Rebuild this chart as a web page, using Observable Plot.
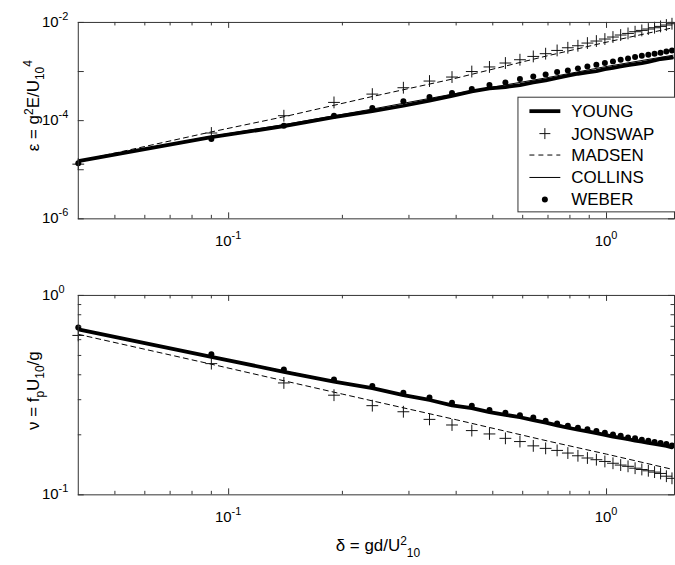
<!DOCTYPE html>
<html>
<head>
<meta charset="utf-8">
<script src="https://cdn.jsdelivr.net/npm/d3@7"></script>
<script src="https://cdn.jsdelivr.net/npm/@observablehq/plot@0.6"></script>
<style>
  body { margin: 0; background: #fff; }
  #fig { position: relative; width: 675px; height: 565px; overflow: hidden; background: #fff;
         font-family: "Liberation Sans", Arial, Helvetica, sans-serif; }
  #fig svg { position: absolute; left: 0; overflow: visible; }
</style>
</head>
<body>
<div id="fig"></div>
<script>
// Non-dimensional depth  delta = g d / U10^2
const delta = [0.04, 0.09, 0.14, 0.19, 0.24, 0.29, 0.34, 0.39, 0.44, 0.49,
               0.54, 0.59, 0.64, 0.69, 0.74, 0.79, 0.84, 0.89, 0.94, 0.99,
               1.04, 1.09, 1.14, 1.19, 1.24, 1.29, 1.34, 1.39, 1.44, 1.49];

// Non-dimensional energy  epsilon = g^2 E / U10^4
const epsYoung   = [1.5e-5, 4.6e-5, 7.7e-5, 1.18e-4, 1.57e-4, 2.01e-4, 2.55e-4, 3.2e-4, 3.94e-4, 4.53e-4,
                    4.83e-4, 5.31e-4, 6.0e-4, 6.59e-4, 7.38e-4, 8.21e-4, 9.01e-4, 9.6e-4, 1.02e-3, 1.12e-3,
                    1.19e-3, 1.27e-3, 1.35e-3, 1.42e-3, 1.49e-3, 1.58e-3, 1.68e-3, 1.8e-3, 1.85e-3, 1.91e-3];
const epsJonswap = [1.3e-5, 5.6e-5, 1.26e-4, 2.35e-4, 3.47e-4, 4.68e-4, 6.4e-4, 7.72e-4, 1.0e-3, 1.24e-3,
                    1.49e-3, 1.74e-3, 2.03e-3, 2.31e-3, 2.69e-3, 3.05e-3, 3.35e-3, 3.8e-3, 4.18e-3, 4.59e-3,
                    5.04e-3, 5.54e-3, 5.97e-3, 6.47e-3, 6.88e-3, 7.34e-3, 7.8e-3, 8.3e-3, 8.85e-3, 9.41e-3];
const epsWeber   = [1.35e-5, 4.22e-5, 7.87e-5, 1.26e-4, 1.8e-4, 2.47e-4, 3.02e-4, 3.65e-4, 4.4e-4, 5.31e-4,
                    6.0e-4, 7.03e-4, 7.94e-4, 8.73e-4, 9.77e-4, 1.05e-3, 1.16e-3, 1.27e-3, 1.37e-3, 1.49e-3,
                    1.61e-3, 1.74e-3, 1.85e-3, 1.97e-3, 2.1e-3, 2.2e-3, 2.31e-3, 2.42e-3, 2.57e-3, 2.69e-3];
const epsMadsenX  = [0.04, 0.09, 0.14, 0.24, 0.39, 0.69, 0.99, 1.5];
const epsMadsen   = [1.5e-5, 5.9e-5, 1.2e-4, 3.1e-4, 7.0e-4, 2.05e-3, 3.9e-3, 7.8e-3];
const epsCollinsX = [0.04, 0.09, 0.14, 0.24, 0.39, 0.69, 0.99, 1.5];
const epsCollins  = [1.5e-5, 4.8e-5, 8.3e-5, 1.72e-4, 3.45e-4, 7.4e-4, 1.25e-3, 2.15e-3];

// Non-dimensional peak frequency  nu = fp U10 / g
const nuYoung   = [0.675, 0.492, 0.414, 0.370, 0.343, 0.316, 0.299, 0.281, 0.272, 0.260,
                   0.252, 0.245, 0.237, 0.230, 0.223, 0.217, 0.212, 0.208, 0.204, 0.200,
                   0.196, 0.193, 0.190, 0.187, 0.185, 0.182, 0.180, 0.178, 0.176, 0.173];
const nuJonswap = [0.630, 0.455, 0.364, 0.316, 0.280, 0.261, 0.239, 0.224, 0.210, 0.202,
                   0.192, 0.185, 0.176, 0.171, 0.167, 0.162, 0.157, 0.153, 0.150, 0.147,
                   0.144, 0.141, 0.139, 0.136, 0.134, 0.132, 0.130, 0.128, 0.124, 0.121];
const nuWeber   = [0.690, 0.507, 0.425, 0.379, 0.351, 0.325, 0.308, 0.290, 0.280, 0.266,
                   0.258, 0.251, 0.244, 0.235, 0.228, 0.222, 0.217, 0.213, 0.209, 0.205,
                   0.201, 0.198, 0.194, 0.192, 0.189, 0.187, 0.184, 0.182, 0.180, 0.177];
const nuMadsenX  = [0.04, 0.09, 0.2, 0.4, 0.7, 1.0, 1.5];
const nuMadsen   = [0.638, 0.452, 0.320, 0.238, 0.186, 0.160, 0.134];
const nuCollinsX = [0.04, 0.09, 0.19, 0.39, 0.69, 0.99, 1.49];
const nuCollins  = [0.677, 0.494, 0.372, 0.283, 0.232, 0.201, 0.174];

// Axis ticks and labels
const xMajor = [0.1, 1];
const xMinor = [0.05, 0.06, 0.07, 0.08, 0.09, 0.2, 0.3, 0.4, 0.5, 0.6, 0.7, 0.8, 0.9];
const xLabels = [{v: 0.1, exp: "-1"}, {v: 1, exp: "0"}];
const epsMajor = [1e-6, 1e-5, 1e-4, 1e-3, 1e-2];
const epsLabels = [{v: 1e-2, exp: "-2"}, {v: 1e-4, exp: "-4"}, {v: 1e-6, exp: "-6"}];
const nuMajor = [0.1, 1];
const nuMinor = [0.2, 0.3, 0.4, 0.5, 0.6, 0.7, 0.8, 0.9];
const nuLabels = [{v: 1, exp: "0"}, {v: 0.1, exp: "-1"}];

const legendItems = ["YOUNG", "JONSWAP", "MADSEN", "COLLINS", "WEBER"];

const FONT = '"Liberation Sans", Arial, Helvetica, sans-serif';
const W = 677, ML = 78, MR = 1;   // the right edge of the frame falls just past the page
const INK = "#000";
const TITLE = 17;

const pairs = (xs, ys) => xs.map((x, i) => ({x, y: ys[i]}));

function panel({height, marginTop, marginBottom, yDomain, yMajor, yMinor, series}) {
  const plotH = height - marginTop - marginBottom;
  const plotW = W - ML - MR;
  const big = 6, small = 3.5;
  const chart = Plot.plot({
    width: W, height, marginLeft: ML, marginRight: MR, marginTop, marginBottom,
    x: {type: "log", domain: [0.04, 1.513], axis: null},
    y: {type: "log", domain: yDomain, axis: null},
    style: {fontFamily: FONT, background: "transparent", color: INK},
    marks: [
      // curves
      Plot.line(series.madsen, {x: "x", y: "y", stroke: INK, strokeWidth: 1, strokeDasharray: "5,4", clip: true}),
      Plot.line(series.collins, {x: "x", y: "y", stroke: INK, strokeWidth: 1, clip: true}),
      Plot.line(series.young, {x: "x", y: "y", stroke: INK, strokeWidth: 3.8, strokeLinejoin: "round", clip: true}),
      Plot.dot(series.jonswap, {x: "x", y: "y", symbol: "plus", r: 3.9, stroke: "#111", strokeWidth: 1, fill: "none"}),
      Plot.dot(series.weber, {x: "x", y: "y", r: 3, fill: INK, stroke: "none"}),
      // inward ticks on the bottom and top edges
      Plot.tickX(xMinor, {x: d => d, insetTop: plotH - small, stroke: "#333"}),
      Plot.tickX(xMinor, {x: d => d, insetBottom: plotH - small, stroke: "#333"}),
      Plot.tickX(xMajor, {x: d => d, insetTop: plotH - big, stroke: "#333"}),
      Plot.tickX(xMajor, {x: d => d, insetBottom: plotH - big, stroke: "#333"}),
      // inward ticks on the left and right edges
      Plot.tickY(yMajor, {y: d => d, insetRight: plotW - big, stroke: "#333"}),
      Plot.tickY(yMajor, {y: d => d, insetLeft: plotW - big, stroke: "#333"}),
      Plot.tickY(yMinor, {y: d => d, insetRight: plotW - small, stroke: "#333"}),
      Plot.tickY(yMinor, {y: d => d, insetLeft: plotW - small, stroke: "#333"}),
      Plot.frame({stroke: "#333", strokeWidth: 1})
    ]
  });
  chart.plotBottom = height - marginBottom;
  return chart;
}

// Power-of-ten label: "10" with a raised exponent
function powLabel(svg, x, y, exp, anchor) {
  const t = d3.select(svg).append("text")
    .attr("x", x).attr("y", y).attr("text-anchor", anchor)
    .attr("font-family", FONT).attr("font-size", 15).attr("fill", INK);
  t.append("tspan").text("10");
  t.append("tspan").attr("dy", -7).attr("font-size", 11).text(exp);
}

// Text with sub/superscripts; parts = [[text, shift]] where shift is the baseline offset
function richText(sel, parts, size) {
  let cur = 0;
  for (const [s, shift] of parts) {
    const sp = sel.append("tspan").attr("dy", shift - cur).text(s);
    if (shift !== 0) sp.attr("font-size", Math.round(size * 0.72));
    cur = shift;
  }
}

function decorate(svg, yLabels, yTitle, yTitleY) {
  const sx = svg.scale("x"), sy = svg.scale("y");
  for (const l of xLabels) powLabel(svg, sx.apply(l.v), svg.plotBottom + 28, l.exp, "middle");
  for (const l of yLabels) powLabel(svg, 42, sy.apply(l.v) + 5, l.exp, "start");
  const t = d3.select(svg).append("text")
    .attr("transform", `translate(39,${yTitleY}) rotate(-90)`)
    .attr("text-anchor", "middle").attr("font-family", FONT).attr("font-size", TITLE).attr("fill", INK);
  richText(t, yTitle, TITLE);
}

const fig = document.getElementById("fig");

// Upper panel: energy
const energyChart = panel({
  height: 270, marginTop: 22, marginBottom: 51, yDomain: [1e-6, 1e-2],
  yMajor: epsMajor, yMinor: [],
  series: {
    young: pairs(delta, epsYoung), jonswap: pairs(delta, epsJonswap), weber: pairs(delta, epsWeber),
    madsen: pairs(epsMadsenX, epsMadsen), collins: pairs(epsCollinsX, epsCollins)
  }
});
energyChart.style.top = "0px";
fig.appendChild(energyChart);
decorate(energyChart, epsLabels, [["ε = g", 0], ["2", -6], ["E/U", 0], ["10", 5], ["4", -7]], 106);

// Legend
{
  const g = d3.select(energyChart).append("g").attr("text-anchor", "start");
  g.append("rect").attr("x", 519.5).attr("y", 97.5).attr("width", 200).attr("height", 115)
    .attr("fill", "#fff").attr("stroke", "#333").attr("stroke-width", 1);
  const rows = [111.5, 134, 155.5, 178, 200];
  const x0 = 531, x1 = 562, xm = 546.5;
  legendItems.forEach((name, i) => {
    const y = rows[i];
    if (name === "YOUNG") g.append("line").attr("x1", x0).attr("x2", x1).attr("y1", y).attr("y2", y).attr("stroke", INK).attr("stroke-width", 3.8);
    if (name === "JONSWAP") g.append("path").attr("d", `M${xm - 5.5},${y}H${xm + 5.5}M${xm},${y - 5.5}V${y + 5.5}`).attr("stroke", "#111").attr("fill", "none");
    if (name === "MADSEN") g.append("line").attr("x1", x0).attr("x2", x1).attr("y1", y).attr("y2", y).attr("stroke", INK).attr("stroke-dasharray", "5,4");
    if (name === "COLLINS") g.append("line").attr("x1", x0).attr("x2", x1).attr("y1", y).attr("y2", y).attr("stroke", INK);
    if (name === "WEBER") g.append("circle").attr("cx", xm).attr("cy", y).attr("r", 3).attr("fill", INK);
    g.append("text").attr("x", 573).attr("y", y + 6).attr("text-anchor", "start")
      .attr("font-family", FONT).attr("font-size", 17).attr("fill", INK).text(name);
  });
}

// Lower panel: peak frequency
const freqChart = panel({
  height: 295, marginTop: 25, marginBottom: 70, yDomain: [0.1, 1],
  yMajor: nuMajor, yMinor: nuMinor,
  series: {
    young: pairs(delta, nuYoung), jonswap: pairs(delta, nuJonswap), weber: pairs(delta, nuWeber),
    madsen: pairs(nuMadsenX, nuMadsen), collins: pairs(nuCollinsX, nuCollins)
  }
});
freqChart.style.top = "270px";
fig.appendChild(freqChart);
decorate(freqChart, nuLabels, [["ν = f", 0], ["p", 5], ["U", 0], ["10", 5], ["/g", 0]], 121);

// x-axis title under the lower panel
{
  const t = d3.select(freqChart).append("text")
    .attr("x", 379).attr("y", 282).attr("text-anchor", "middle")
    .attr("font-family", FONT).attr("font-size", TITLE).attr("fill", INK);
  richText(t, [["δ = gd/U", 0], ["2", -6], ["10", 6]], TITLE);
}
</script>
</body>
</html>
